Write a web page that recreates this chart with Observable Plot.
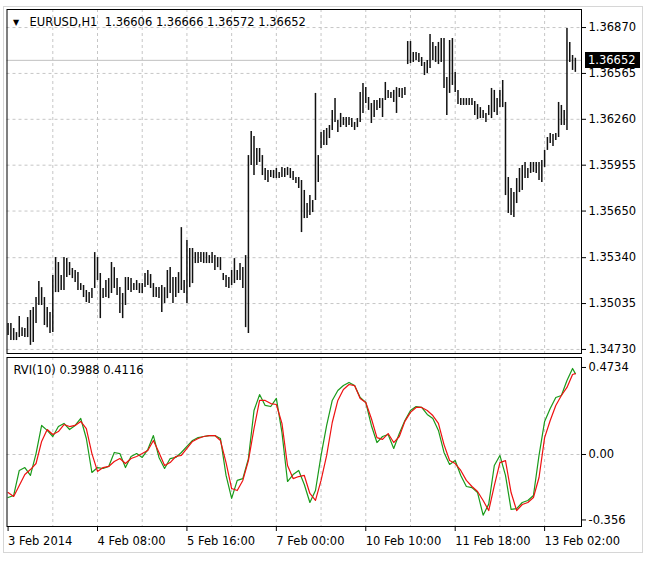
<!DOCTYPE html>
<html><head><meta charset="utf-8">
<script src="https://cdn.jsdelivr.net/npm/d3@7"></script>
<script src="https://cdn.jsdelivr.net/npm/@observablehq/plot@0.6"></script>
<style>
body{margin:0;background:#fff;}
#wrap{position:relative;width:649px;height:568px;overflow:hidden;font-family:"DejaVu Sans",sans-serif;}
#wrap svg{position:absolute;left:0;top:0;}
.outer{position:absolute;left:3px;top:6px;width:638px;height:545px;border:1px solid #d6d6d6;}
.pbox{position:absolute;height:16px;width:55px;background:#000;color:#fff;font-size:11.5px;line-height:16px;padding-left:3px;box-sizing:border-box;white-space:nowrap;}
</style></head><body><div id="wrap"><div class="outer"></div></div>
<script>
// ---------- data ----------
const symbol = "EURUSD,H1";
const lastOHLC = [1.36606, 1.36666, 1.36572, 1.36652];
const rviName = "RVI(10)";
const rviShown = ["0.3988", "0.4116"];

const highs = [
1.34902,1.34902,1.34869,1.34842,1.34949,1.34875,1.34869,1.34942,1.34989,1.35008,
1.35075,1.35181,1.35141,1.35075,1.35008,1.34975,1.35221,1.35341,1.35308,1.35221,
1.35341,1.35334,1.35308,1.35268,1.35255,1.35241,1.35168,1.35155,1.35122,1.35108,
1.35135,1.35374,1.35341,1.35235,1.35135,1.35188,1.35201,1.35308,1.35274,1.35201,
1.35141,1.35102,1.35208,1.35208,1.35201,1.35168,1.35188,1.35168,1.35168,1.35235,
1.35255,1.35228,1.35168,1.35141,1.35141,1.35155,1.35141,1.35255,1.35274,1.35208,
1.35208,1.35241,1.35540,1.35188,1.35454,1.35401,1.35401,1.35374,1.35374,1.35374,
1.35374,1.35374,1.35354,1.35374,1.35354,1.35341,1.35341,1.35235,1.35221,1.35208,
1.35255,1.35334,1.35255,1.35301,1.35274,1.35354,1.36019,1.36179,1.36146,1.36066,
1.36066,1.36019,1.35933,1.35920,1.35920,1.35920,1.35933,1.35906,1.35940,1.35933,
1.35940,1.35933,1.35913,1.35873,1.35873,1.35853,1.35787,1.35700,1.35753,1.35720,
1.36432,1.36019,1.36172,1.36186,1.36199,1.36219,1.36319,1.36398,1.36252,1.36299,
1.36272,1.36272,1.36272,1.36265,1.36239,1.36265,1.36438,1.36498,1.36471,1.36405,
1.36365,1.36385,1.36385,1.36398,1.36398,1.36505,1.36452,1.36438,1.36452,1.36471,
1.36465,1.36465,1.36471,1.36777,1.36777,1.36704,1.36704,1.36698,1.36671,1.36638,
1.36651,1.36824,1.36771,1.36744,1.36771,1.36797,1.36797,1.36538,1.36784,1.36797,
1.36571,1.36452,1.36398,1.36398,1.36398,1.36398,1.36398,1.36378,1.36358,1.36338,
1.36319,1.36299,1.36352,1.36465,1.36452,1.36398,1.36452,1.36518,1.36372,1.35873,
1.35800,1.35773,1.35866,1.35933,1.35953,1.35973,1.35933,1.35973,1.35973,1.35973,
1.35973,1.35986,1.36053,1.36139,1.36166,1.36159,1.36166,1.36372,1.36352,1.36319,
1.36864,1.36771,1.36684,1.36666];

const lows = [
1.34822,1.34789,1.34789,1.34789,1.34809,1.34816,1.34809,1.34809,1.34757,1.34776,
1.34902,1.35022,1.35022,1.34889,1.34875,1.34836,1.34842,1.35108,1.35108,1.35122,
1.35122,1.35208,1.35221,1.35201,1.35175,1.35122,1.35122,1.35075,1.35042,1.35035,
1.35068,1.35135,1.35188,1.34935,1.35068,1.35075,1.35068,1.35102,1.35135,1.35088,
1.34969,1.34935,1.35022,1.35122,1.35108,1.35122,1.35122,1.35102,1.35102,1.35141,
1.35155,1.35135,1.35075,1.35075,1.35068,1.34975,1.35035,1.35068,1.35102,1.35035,
1.35075,1.35102,1.35122,1.35102,1.35035,1.35141,1.35168,1.35301,1.35301,1.35308,
1.35301,1.35301,1.35301,1.35301,1.35255,1.35274,1.35255,1.35188,1.35141,1.35135,
1.35155,1.35168,1.35188,1.35188,1.35135,1.34875,1.34836,1.35953,1.35886,1.35953,
1.35973,1.35886,1.35853,1.35840,1.35873,1.35866,1.35866,1.35866,1.35873,1.35873,
1.35886,1.35866,1.35853,1.35833,1.35800,1.35507,1.35600,1.35600,1.35620,1.35640,
1.35720,1.35840,1.36066,1.36086,1.36086,1.36132,1.36186,1.36239,1.36172,1.36205,
1.36219,1.36205,1.36219,1.36205,1.36186,1.36205,1.36239,1.36299,1.36365,1.36319,
1.36232,1.36272,1.36319,1.36332,1.36272,1.36385,1.36398,1.36398,1.36372,1.36299,
1.36405,1.36398,1.36418,1.36624,1.36631,1.36638,1.36651,1.36638,1.36611,1.36551,
1.36565,1.36598,1.36651,1.36638,1.36624,1.36638,1.36465,1.36285,1.36432,1.36485,
1.36438,1.36358,1.36352,1.36352,1.36352,1.36352,1.36352,1.36285,1.36259,1.36265,
1.36265,1.36239,1.36285,1.36265,1.36305,1.36285,1.36338,1.36338,1.35753,1.35634,
1.35620,1.35607,1.35700,1.35773,1.35787,1.35866,1.35866,1.35900,1.35906,1.35900,
1.35853,1.35840,1.35940,1.36053,1.36099,1.36079,1.36119,1.36139,1.36219,1.36219,
1.36186,1.36638,1.36585,1.36572];

// RVI read every second bar (bars 0,2,...,202) plus the last bar (203)
const rviMain = [
-0.234,-0.223,-0.087,-0.071,-0.114,0.005,0.158,0.131,0.098,0.152,
0.169,0.136,0.158,0.196,0.087,-0.098,-0.071,-0.076,-0.065,0.011,
0.005,-0.071,-0.011,0.005,-0.016,0.027,0.103,-0.016,-0.076,-0.022,
-0.016,0.011,0.044,0.076,0.092,0.098,0.103,0.103,0.087,-0.114,
-0.239,-0.141,-0.131,-0.022,0.239,0.326,0.267,0.261,0.305,0.120,
-0.147,-0.109,-0.087,-0.163,-0.261,-0.196,-0.005,0.158,0.294,0.348,
0.375,0.392,0.375,0.310,0.283,0.158,0.065,0.098,0.109,0.033,
0.114,0.185,0.239,0.261,0.256,0.218,0.196,0.131,0.011,-0.054,
-0.033,-0.114,-0.174,-0.180,-0.207,-0.330,-0.270,-0.060,-0.005,-0.114,
-0.299,-0.294,-0.261,-0.250,-0.223,-0.005,0.180,0.250,0.310,0.321,
0.403,0.468,0.440];
const rviSignal = [
-0.207,-0.228,-0.169,-0.109,-0.082,-0.049,0.071,0.136,0.109,0.125,
0.163,0.152,0.158,0.180,0.141,0.005,-0.092,-0.071,-0.065,-0.038,
-0.022,-0.049,-0.022,-0.011,0.005,0.022,0.076,0.011,-0.060,-0.044,
-0.011,-0.005,0.033,0.071,0.087,0.098,0.103,0.103,0.076,-0.044,
-0.185,-0.196,-0.141,-0.033,0.141,0.294,0.294,0.277,0.272,0.169,
-0.060,-0.131,-0.120,-0.114,-0.212,-0.250,-0.141,-0.005,0.174,0.294,
0.354,0.381,0.375,0.305,0.283,0.196,0.092,0.082,0.114,0.065,
0.098,0.180,0.229,0.256,0.256,0.239,0.212,0.169,0.054,-0.033,
-0.049,-0.087,-0.141,-0.174,-0.201,-0.250,-0.305,-0.169,-0.044,-0.033,
-0.207,-0.305,-0.272,-0.261,-0.234,-0.125,0.092,0.185,0.267,0.321,
0.365,0.435,0.440];

const priceTicks = [1.36870, 1.36565, 1.36260, 1.35955, 1.35650, 1.35340, 1.35035, 1.34730];
const rviTicks = [0.4734, 0.00, -0.356];
const rviTickLabels = ["0.4734", "0.00", "-0.356"];
const timeLabels = ["3 Feb 2014", "4 Feb 08:00", "5 Feb 16:00", "7 Feb 00:00", "10 Feb 10:00", "11 Feb 18:00", "13 Feb 02:00"];
const timeLabelBars = [0, 32, 64, 96, 128, 160, 192];

// ---------- build ----------
const W = 649, H = 568;
const font = '"DejaVu Sans", sans-serif';
const gridC = "#c6c6c6";
const xDomain = [-0.39, 205.2];
const gridBars = d3.range(16, 200, 16);
const bars = highs.map((h, i) => ({i, h, l: lows[i]}));
const rviIdx = d3.range(0, 203, 2).concat([203]);
const rvi = rviIdx.map((i, k) => ({i, m: rviMain[k], s: rviSignal[k]}));
const header = symbol + "\u00a0\u00a0" + lastOHLC.map(v => v.toFixed(5)).join(" ");

const styleObj = {fontFamily: font, fontSize: "11.5px", color: "#000", background: "transparent", overflow: "visible"};

const topPlot = Plot.plot({
  width: W, height: H, marginLeft: 6.5, marginRight: 68, marginTop: 9, marginBottom: 215,
  style: styleObj,
  x: {domain: xDomain, axis: null},
  y: {domain: [1.34703, 1.36990], axis: null},
  marks: [
    Plot.ruleX(gridBars, {stroke: gridC, strokeDasharray: "3,3"}),
    Plot.ruleY(priceTicks, {stroke: gridC, strokeDasharray: "3,3"}),
    Plot.ruleY([lastOHLC[3]], {stroke: "#c0c0c0"}),
    Plot.ruleX(bars, {x: "i", y1: "l", y2: "h", stroke: "#111", strokeWidth: 1.5}),
    Plot.axisY(priceTicks, {anchor: "right", label: null, tickSize: 4, tickPadding: 3, tickFormat: d => d.toFixed(5), fill: "#000"}),
    Plot.frame({stroke: "#000"}),
    Plot.text(["\u25bc"], {frameAnchor: "top-left", dx: 6, dy: 10, fontSize: 8, textAnchor: "start", lineAnchor: "top"}),
    Plot.text([header], {frameAnchor: "top-left", dx: 22.5, dy: 8, textAnchor: "start", lineAnchor: "top", fill: "#000"})
  ]
});

const botPlot = Plot.plot({
  width: W, height: H, marginLeft: 6.5, marginRight: 68, marginTop: 357, marginBottom: 42,
  style: styleObj,
  x: {domain: xDomain, axis: null},
  y: {domain: [-0.3917, 0.5277], axis: null},
  marks: [
    Plot.ruleX(gridBars, {stroke: gridC, strokeDasharray: "3,3"}),
    Plot.ruleY([0], {stroke: gridC, strokeDasharray: "3,3"}),
    Plot.line(rvi, {x: "i", y: "m", stroke: "#1a9a1a", strokeWidth: 1.2}),
    Plot.line(rvi, {x: "i", y: "s", stroke: "#ee1111", strokeWidth: 1.2}),
    Plot.axisY(rviTicks, {anchor: "right", label: null, tickSize: 4, tickPadding: 3, tickFormat: d => rviTickLabels[rviTicks.indexOf(d)], fill: "#000"}),
    Plot.axisX(timeLabelBars, {anchor: "bottom", label: null, tickSize: 5, tickPadding: 5, textAnchor: "start", tickFormat: d => timeLabels[timeLabelBars.indexOf(d)], fill: "#000"}),
    Plot.frame({stroke: "#000"}),
    Plot.text([rviName + " " + rviShown.join(" ")], {frameAnchor: "top-left", dx: 6.5, dy: 8, textAnchor: "start", lineAnchor: "top", fill: "#000"})
  ]
});

const wrap = document.getElementById("wrap");
wrap.appendChild(topPlot);
wrap.appendChild(botPlot);

// current-price box on the right price scale
{
  const ys = topPlot.scale("y"), xs = topPlot.scale("x");
  const yy = ys.apply(lastOHLC[3]);
  const box = document.createElement("div");
  box.className = "pbox";
  box.style.left = (d3.max(xs.range) + 4) + "px";
  box.style.top = (yy - 8) + "px";
  box.textContent = lastOHLC[3].toFixed(5);
  wrap.appendChild(box);
}
</script></body></html>
